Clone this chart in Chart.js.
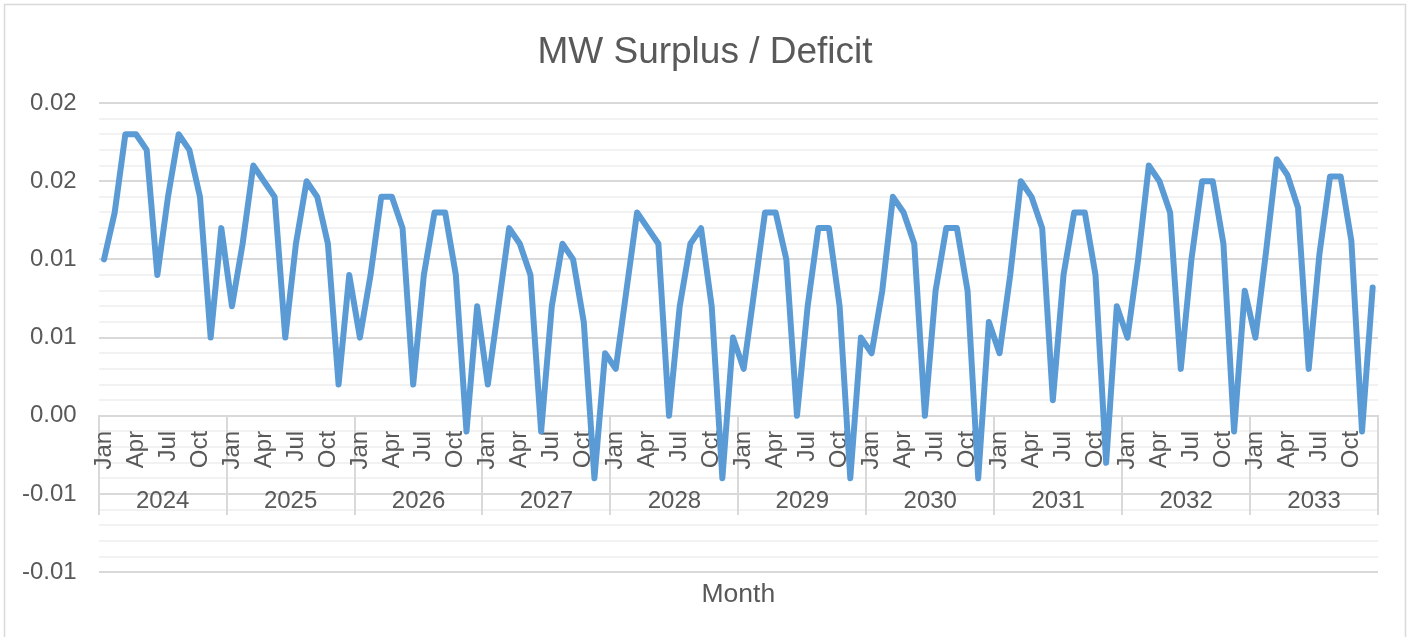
<!DOCTYPE html>
<html>
<head>
<meta charset="utf-8">
<title>MW Surplus / Deficit</title>
<script src="https://cdn.jsdelivr.net/npm/chart.js@4.4.1/dist/chart.umd.min.js"></script>
<style>
    html, body { margin: 0; padding: 0; background: #ffffff; }
    canvas { display: block; }
</style>
</head>
<body>
<canvas id="surplusChart" width="1410" height="637"></canvas>
<script>
// Categories
const years = ['2024', '2025', '2026', '2027', '2028', '2029', '2030', '2031', '2032', '2033'];
const monthNames = ['Jan', 'Feb', 'Mar', 'Apr', 'May', 'Jun', 'Jul', 'Aug', 'Sep', 'Oct', 'Nov', 'Dec'];
const shownMonths = ['Jan', 'Apr', 'Jul', 'Oct'];

// Y tick labels, bottom to top (every 0.005, Excel rounds to 2 decimals)
const yTickLabels = ['-0.01', '-0.01', '0.00', '0.01', '0.01', '0.02', '0.02'];

// Monthly surplus / deficit values, one array per year
const surplus2024 = [0.010, 0.013, 0.018, 0.018, 0.017, 0.009, 0.014, 0.018, 0.017, 0.014, 0.005, 0.012];
const surplus2025 = [0.007, 0.011, 0.016, 0.015, 0.014, 0.005, 0.011, 0.015, 0.014, 0.011, 0.002, 0.009];
const surplus2026 = [0.005, 0.009, 0.014, 0.014, 0.012, 0.002, 0.009, 0.013, 0.013, 0.009, -0.001, 0.007];
const surplus2027 = [0.002, 0.007, 0.012, 0.011, 0.009, -0.001, 0.007, 0.011, 0.010, 0.006, -0.004, 0.004];
const surplus2028 = [0.003, 0.008, 0.013, 0.012, 0.011, 0.000, 0.007, 0.011, 0.012, 0.007, -0.004, 0.005];
const surplus2029 = [0.003, 0.008, 0.013, 0.013, 0.010, 0.000, 0.007, 0.012, 0.012, 0.007, -0.004, 0.005];
const surplus2030 = [0.004, 0.008, 0.014, 0.013, 0.011, 0.000, 0.008, 0.012, 0.012, 0.008, -0.004, 0.006];
const surplus2031 = [0.004, 0.009, 0.015, 0.014, 0.012, 0.001, 0.009, 0.013, 0.013, 0.009, -0.003, 0.007];
const surplus2032 = [0.005, 0.010, 0.016, 0.015, 0.013, 0.003, 0.010, 0.015, 0.015, 0.011, -0.001, 0.008];
const surplus2033 = [0.005, 0.0105, 0.0164, 0.0154, 0.0133, 0.003, 0.0103, 0.0153, 0.0153, 0.0112, -0.001, 0.0082];

const textColor = '#595959';
const gridMajor = '#D9D9D9';
const gridMinor = '#F2F2F2';

Chart.defaults.font.family = "'Liberation Sans', Arial, sans-serif";
Chart.defaults.color = textColor;

// Build the labels and the series from the arrays above
const labels = [];
years.forEach((y) => monthNames.forEach((m) => labels.push(m + ' ' + y)));
const surplus = [].concat(surplus2024, surplus2025, surplus2026, surplus2027, surplus2028,
    surplus2029, surplus2030, surplus2031, surplus2032, surplus2033);

// thousandths helper for the major / minor gridlines
const milli = (v) => Math.round(v * 1000);

// Light grey frame round the whole chart, like the Excel chart border
const chartBorder = {
    id: 'chartBorder',
    beforeDraw(chart) {
        const ctx = chart.ctx;
        ctx.save();
        ctx.strokeStyle = gridMajor;
        ctx.lineWidth = 1.5;
        ctx.strokeRect(4.5, 4.5, chart.width - 9, chart.height);
        ctx.restore();
    },
};

const ctx = document.getElementById('surplusChart').getContext('2d');
new Chart(ctx, {
    type: 'line',
    data: {
        labels: labels,
        datasets: [{
            label: 'MW Surplus / Deficit',
            data: surplus,
            borderColor: '#5B9BD5',
            backgroundColor: '#5B9BD5',
            borderWidth: 6,
            pointRadius: 0,
            tension: 0,
            fill: false,
            borderJoinStyle: 'round',
            borderCapStyle: 'round',
            xAxisID: 'x',
            yAxisID: 'y',
        }],
    },
    options: {
        responsive: false,
        animation: false,
        layout: {
            padding: 0,
        },
        scales: {
            y: {
                min: -0.01,
                max: 0.02,
                ticks: {
                    stepSize: 0.001,
                    autoSkip: false,
                    padding: 22,
                    font: { size: 24 },
                    callback: function (value) {
                        const k = milli(value);
                        if (k % 5 !== 0) return '';
                        return yTickLabels[(k + 10) / 5];
                    },
                },
                grid: {
                    drawTicks: false,
                    lineWidth: 2,
                    color: (c) => (milli(c.tick.value) % 5 === 0 ? gridMajor : gridMinor),
                },
                border: { display: false },
            },
            // empty right axis, only keeps a margin so the title stays centred on the canvas
            yRight: {
                axis: 'y',
                position: 'right',
                grid: { display: false, drawTicks: false },
                border: { display: false },
                ticks: { display: false },
                afterFit: (scale) => { scale.width = 32; },
            },
            x: {
                type: 'category',
                offset: true,
                position: { y: 0 },
                // no tick marks drawn, tickLength only moves the labels down
                grid: { display: false, drawTicks: true, tickLength: 15 },
                border: { display: true, color: gridMajor, width: 2 },
                ticks: {
                    autoSkip: false,
                    minRotation: 90,
                    maxRotation: 90,
                    padding: 0,
                    font: { size: 24 },
                    callback: function (value, index) {
                        const m = monthNames[index % 12];
                        return shownMonths.includes(m) ? m : '';
                    },
                },
            },
            xYear: {
                type: 'category',
                axis: 'x',
                labels: years,
                offset: true,
                bounds: 'ticks',
                position: { y: 0 },
                grid: {
                    display: true,
                    offset: true,
                    drawOnChartArea: false,
                    drawTicks: true,
                    tickLength: 99,
                    color: gridMajor,
                    lineWidth: 2,
                },
                border: { display: false },
                ticks: {
                    autoSkip: false,
                    maxRotation: 0,
                    minRotation: 0,
                    padding: -28,
                    font: { size: 24 },
                },
            },
        },
        plugins: {
            legend: { display: false },
            tooltip: { enabled: false },
            title: {
                display: true,
                text: 'MW Surplus / Deficit',
                color: textColor,
                font: { size: 37, weight: 'normal' },
                padding: { top: 31, bottom: 27.6 },
            },
            subtitle: {
                display: true,
                position: 'bottom',
                fullSize: false,
                text: 'Month',
                color: textColor,
                font: { size: 26.5, weight: 'normal' },
                padding: { top: 7, bottom: 26 },
            },
        },
    },
    plugins: [chartBorder],
});
</script>
</body>
</html>
